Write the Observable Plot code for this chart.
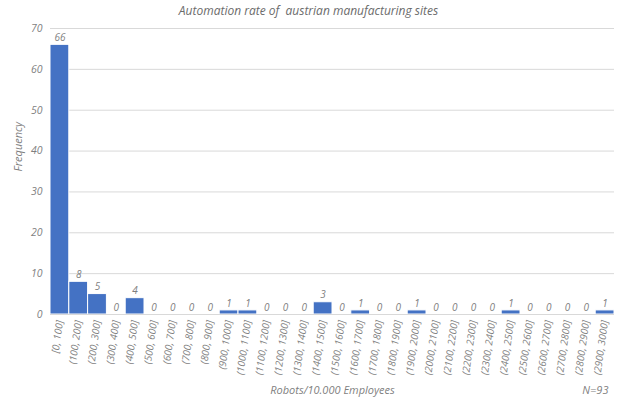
<!DOCTYPE html>
<html>
<head>
<meta charset="utf-8">
<script src="https://cdn.jsdelivr.net/npm/d3@7"></script>
<script src="https://cdn.jsdelivr.net/npm/@observablehq/plot@0.6"></script>
<style>
  body { margin: 0; background: #fff; font-family: "Open Sans", sans-serif; }
  #title { height: 22px; line-height: 22px; text-align: center; font-style: italic; font-size: 12px; color: #6b6b6b; width: 617px; padding-left: 0; }
</style>
</head>
<body>
<div id="title">Automation rate of &nbsp;austrian manufacturing sites</div>
<div id="chart"></div>
<script>
const binLabels = ["[0, 100]", "(100, 200]", "(200, 300]", "(300, 400]", "(400, 500]", "(500, 600]", "(600, 700]", "(700, 800]", "(800, 900]", "(900, 1000]",
  "(1000, 1100]", "(1100, 1200]", "(1200, 1300]", "(1300, 1400]", "(1400, 1500]", "(1500, 1600]", "(1600, 1700]", "(1700, 1800]", "(1800, 1900]", "(1900, 2000]",
  "(2000, 2100]", "(2100, 2200]", "(2200, 2300]", "(2300, 2400]", "(2400, 2500]", "(2500, 2600]", "(2600, 2700]", "(2700, 2800]", "(2800, 2900]", "(2900, 3000]"];
const counts = [66, 8, 5, 0, 4, 0, 0, 0, 0, 1,
  1, 0, 0, 0, 3, 0, 1, 0, 0, 1,
  0, 0, 0, 0, 1, 0, 0, 0, 0, 1];
const yTicks = [0, 10, 20, 30, 40, 50, 60, 70];
const xTitle = "Robots/10.000 Employees";
const yTitle = "Frequency";
const note = "N=93";

const data = binLabels.map((b, i) => ({bin: b, count: counts[i]}));
const gray = "#7f7f7f";

const chart = Plot.plot({
  width: 617,
  height: 381,
  marginTop: 6,
  marginLeft: 50,
  marginRight: 3,
  marginBottom: 89,
  style: {fontFamily: "Open Sans, sans-serif", fontStyle: "italic", color: gray, fontSize: "10px", background: "#fff"},
  x: {domain: binLabels, padding: 0, round: false, label: null},
  y: {domain: [0, 70], label: null},
  marks: [
    Plot.gridY(yTicks, {stroke: "#d9d9d9", strokeOpacity: 1}),
    Plot.axisY(yTicks, {tickSize: 0, tickPadding: 8, fontSize: 10.5, label: null}),
    Plot.axisX({tickSize: 0, tickPadding: 6, tickRotate: -82, fontSize: 10, label: null}),
    Plot.barY(data, {x: "bin", y: "count", fill: "#4472c4", stroke: "#fff", strokeWidth: 1}),
    Plot.ruleY([0], {stroke: "#d9d9d9"}),
    Plot.text(data, {x: "bin", y: "count", text: d => String(d.count), dy: -7, fontSize: 10, fill: gray}),
    Plot.text([yTitle], {frameAnchor: "left", rotate: -90, dx: -32, fontSize: 11, fill: gray}),
    Plot.text([xTitle], {frameAnchor: "bottom", dy: 79, fontSize: 11, fill: gray}),
    Plot.text([note], {frameAnchor: "bottom-right", dx: -6, dy: 79, fontSize: 11, fill: gray})
  ]
});
document.getElementById("chart").appendChild(chart);
</script>
</body>
</html>
